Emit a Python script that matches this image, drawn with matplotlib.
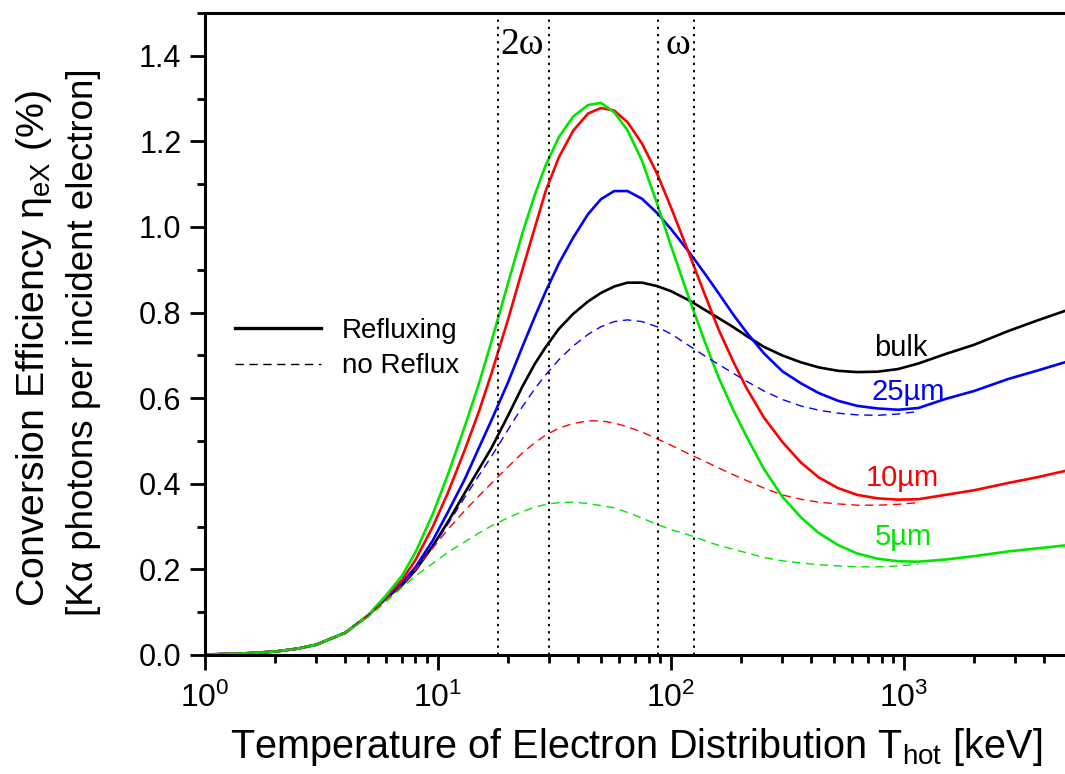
import numpy as np
import matplotlib.pyplot as plt
from matplotlib.ticker import LogLocator, MultipleLocator, NullFormatter

plt.rcParams['font.family'] = ['Liberation Sans', 'DejaVu Sans']
plt.rcParams['mathtext.fontset'] = 'custom'
plt.rcParams['mathtext.rm'] = 'Liberation Sans'
plt.rcParams['mathtext.it'] = 'Liberation Sans:italic'

# Electron temperature grid [keV]
t_hot = [1, 1.5, 2, 2.5, 3, 4, 5, 6, 7, 8, 9.5, 11, 13, 15, 17, 20, 23, 26, 29, 33,
         38, 44, 50, 57, 65, 75, 87, 100, 120, 140, 160, 185, 210, 250, 300, 360,
         430, 520, 630, 770, 940, 1150, 1500, 2000, 2800, 3700, 4900]

# Refluxing (solid) conversion efficiency [%]
bulk = [0.001, 0.004, 0.008, 0.015, 0.024, 0.052, 0.092, 0.133, 0.163, 0.198, 0.255,
        0.310, 0.378, 0.435, 0.485, 0.560, 0.627, 0.680, 0.720, 0.762, 0.797, 0.826,
        0.846, 0.861, 0.870, 0.870, 0.862, 0.850, 0.828, 0.806, 0.787, 0.766, 0.746,
        0.720, 0.700, 0.684, 0.672, 0.664, 0.661, 0.662, 0.668, 0.681, 0.703, 0.725,
        0.757, 0.781, 0.804]
um25 = [0.001, 0.004, 0.008, 0.015, 0.024, 0.052, 0.092, 0.135, 0.168, 0.205, 0.268,
        0.333, 0.410, 0.485, 0.550, 0.638, 0.720, 0.790, 0.850, 0.915, 0.975, 1.030,
        1.065, 1.084, 1.084, 1.066, 1.033, 0.995, 0.940, 0.890, 0.845, 0.795, 0.755,
        0.705, 0.663, 0.635, 0.612, 0.594, 0.582, 0.576, 0.573, 0.577, 0.598, 0.617,
        0.645, 0.664, 0.684]
um10 = [0.001, 0.004, 0.008, 0.015, 0.024, 0.052, 0.092, 0.137, 0.175, 0.222, 0.300,
        0.378, 0.478, 0.570, 0.660, 0.785, 0.900, 0.998, 1.085, 1.163, 1.225, 1.265,
        1.278, 1.272, 1.245, 1.195, 1.125, 1.045, 0.935, 0.840, 0.760, 0.685, 0.625,
        0.555, 0.498, 0.450, 0.415, 0.390, 0.374, 0.366, 0.363, 0.364, 0.374, 0.385,
        0.402, 0.415, 0.430]
um5 = [0.001, 0.004, 0.008, 0.015, 0.024, 0.052, 0.092, 0.140, 0.185, 0.240, 0.330,
       0.420, 0.533, 0.635, 0.735, 0.870, 0.985, 1.075, 1.145, 1.210, 1.258, 1.285,
       1.290, 1.268, 1.226, 1.155, 1.055, 0.955, 0.830, 0.730, 0.648, 0.572, 0.512,
       0.435, 0.370, 0.322, 0.285, 0.257, 0.237, 0.225, 0.219, 0.218, 0.223, 0.231,
       0.242, 0.249, 0.256]

# No reflux (dashed), computed up to ~1 MeV only
t_nr = t_hot[:42]
um25_nr = [0.001, 0.004, 0.008, 0.015, 0.024, 0.052, 0.092, 0.131, 0.161, 0.196, 0.252,
           0.305, 0.368, 0.420, 0.465, 0.527, 0.580, 0.622, 0.655, 0.690, 0.722, 0.749,
           0.767, 0.779, 0.783, 0.779, 0.767, 0.750, 0.722, 0.698, 0.679, 0.658, 0.640,
           0.617, 0.597, 0.582, 0.572, 0.565, 0.561, 0.560, 0.563, 0.569]
um10_nr = [0.001, 0.004, 0.008, 0.015, 0.024, 0.052, 0.091, 0.130, 0.163, 0.200, 0.250,
           0.293, 0.337, 0.372, 0.402, 0.440, 0.472, 0.496, 0.514, 0.530, 0.541, 0.547,
           0.547, 0.542, 0.533, 0.521, 0.505, 0.490, 0.469, 0.452, 0.437, 0.421, 0.408,
           0.390, 0.374, 0.364, 0.357, 0.353, 0.350, 0.350, 0.352, 0.356]
um5_nr = [0.001, 0.004, 0.008, 0.015, 0.024, 0.052, 0.088, 0.125, 0.158, 0.185, 0.214,
          0.240, 0.264, 0.285, 0.302, 0.321, 0.335, 0.345, 0.352, 0.356, 0.357, 0.354,
          0.349, 0.344, 0.333, 0.320, 0.305, 0.293, 0.280, 0.267, 0.256, 0.247, 0.239,
          0.228, 0.220, 0.215, 0.211, 0.208, 0.206, 0.206, 0.208, 0.212]

# Laser harmonic bands [keV]
band_2w = [18, 30]
band_1w = [88, 125]

GREEN = '#00e600'
BLUE = '#0000ff'
RED = '#ff0000'

fig = plt.figure(figsize=(10.65, 7.74), dpi=100)
ax = fig.add_axes([205 / 1065, 119 / 774, 860 / 1065, 642 / 774])

ax.plot(t_hot, bulk, color='black', lw=1.9)
ax.plot(t_hot, um25, color=BLUE, lw=1.9)
ax.plot(t_hot, um10, color=RED, lw=1.9)
ax.plot(t_hot, um5, color=GREEN, lw=1.9)

dash = (0, (6, 4))
ax.plot(t_nr, um25_nr, color=BLUE, lw=1.0, ls=dash)
ax.plot(t_nr, um10_nr, color=RED, lw=1.0, ls=dash)
ax.plot(t_nr, um5_nr, color=GREEN, lw=1.0, ls=dash)

for xv in band_2w + band_1w:
    ax.axvline(xv, color='black', lw=1.4, ls=(0, (1.2, 2.5)))

ax.set_xscale('log')
ax.set_xlim(1, 4900)
ax.set_ylim(0, 1.5)

ax.xaxis.set_major_locator(LogLocator(base=10, numticks=10))
ax.xaxis.set_minor_locator(LogLocator(base=10, subs=np.arange(2, 10), numticks=20))
ax.xaxis.set_minor_formatter(NullFormatter())
ax.yaxis.set_minor_locator(MultipleLocator(0.1))
yt = np.arange(0, 1.41, 0.2)
ax.set_yticks(yt)
ax.set_yticklabels([f'{v:.1f}' for v in yt])

ax.tick_params(which='both', direction='out', width=2, top=False, right=False)
ax.tick_params(which='major', length=11)
ax.tick_params(axis='y', labelsize=22, pad=6)
ax.tick_params(axis='x', labelsize=23, pad=9)
ax.tick_params(which='minor', length=6)
for s in ['left', 'bottom', 'top']:
    ax.spines[s].set_linewidth(2.2)
ax.spines['right'].set_visible(False)

fig.text(636 / 1065, 1 - 758 / 774,
         'Temperature of Electron Distribution T$_{\\mathregular{hot}}$ [keV]',
         fontsize=28.5, ha='center', va='baseline')
fig.text(34 / 1065, 1 - 349 / 774, 'Conversion Efficiency \u03b7$_{\\mathregular{eX}}$ (%)',
         rotation=90, fontsize=28.3, ha='center', va='center')
fig.text(84 / 1065, 1 - 342 / 774, '[K\u03b1 photons per incident electron]',
         rotation=90, fontsize=26.5, ha='center', va='center')

ax.plot([], [], color='black', lw=2.4, label='Refluxing')
ax.plot([], [], color='black', lw=1.0, ls=dash, label='no Reflux')
handles, labels = ax.get_legend_handles_labels()
ax.legend(handles[-2:], labels[-2:], loc='center left', bbox_to_anchor=(0.035, 0.4774),
          frameon=False, fontsize=20, handlelength=3.1, handletextpad=0.75,
          labelspacing=0.35, borderpad=0, borderaxespad=0)

ax.text(971, 0.717, 'bulk', color='black', fontsize=21, ha='center', va='center')
ax.text(1041, 0.614, '25\u00b5m', color=BLUE, fontsize=21, ha='center', va='center')
ax.text(980, 0.414, '10\u00b5m', color=RED, fontsize=21, ha='center', va='center')
ax.text(990, 0.276, '5\u00b5m', color=GREEN, fontsize=21, ha='center', va='center')

ax.text(23, 1.425, '2\u03c9', fontsize=27, ha='center', va='center',
        family=['Liberation Serif', 'DejaVu Serif'])
ax.text(107, 1.425, '\u03c9', fontsize=27, ha='center', va='center',
        family=['Liberation Serif', 'DejaVu Serif'])

fig.savefig('out.png', dpi=100)
